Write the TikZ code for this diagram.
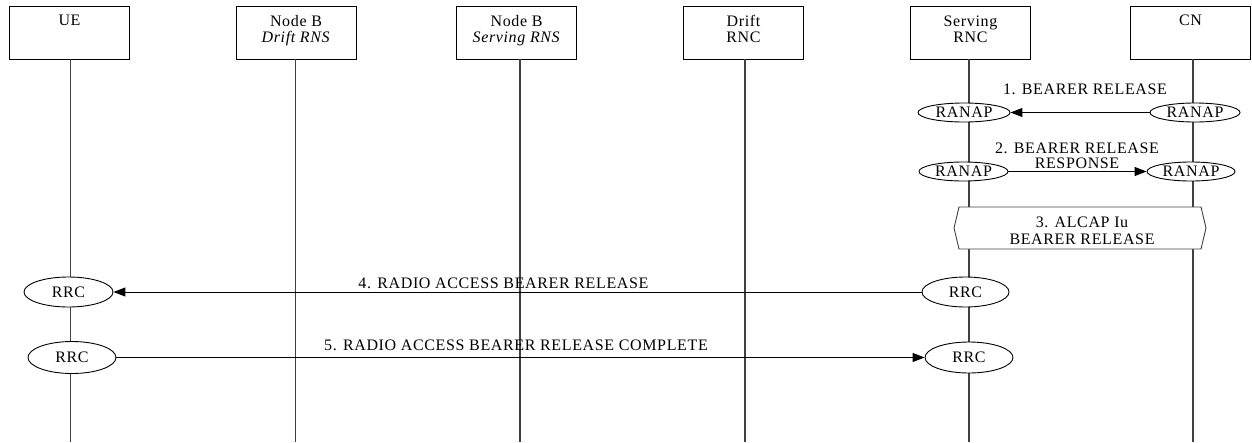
\documentclass[tikz,border=0pt]{standalone}
\usepackage{fontspec}
\setmainfont{Liberation Serif}[LetterSpace=4]
\usetikzlibrary{arrows.meta,shapes.geometric}
\begin{document}
\begin{tikzpicture}[x=1pt,y=-1pt,
  font=\fontsize{16}{16.5}\selectfont,
  entity/.style={draw=black, line width=1pt, minimum width=120pt, minimum height=53pt, inner sep=0pt},
  lbl/.style={inner sep=0pt, anchor=base, align=center},
  life/.style={draw=black!75, line width=1.2pt},
  proto/.style={draw=black, fill=white, ellipse, line width=0.9pt, inner sep=0pt, minimum width=90pt, minimum height=19pt},
  rrc/.style={proto, minimum width=88pt, minimum height=30pt},
  msg/.style={draw=black, line width=1pt, -{Triangle[length=12pt,width=9pt]}},
  hexa/.style={draw=black!75, fill=white, line width=0.9pt}
]
\useasboundingbox (0,0) rectangle (1252,442);
% entity boxes
\node[entity] (ue)  at (69.5,32.5)  {};
\node[entity] (nbd) at (296,32.5)   {};
\node[entity] (nbs) at (516.5,32.5) {};
\node[entity] (drnc) at (743.5,32.5) {};
\node[entity] (srnc) at (970.5,32.5) {};
\node[entity] (cn)  at (1190.5,32.5) {};
\node[lbl] (uet) at (69.5,25.5) {UE};
\node[lbl] (nbdt) at (296,42.5) {Node B\\\textit{Drift RNS}};
\node[lbl] (nbst) at (516.5,42.5) {Node B\\\textit{Serving RNS}};
\node[lbl] (drnct) at (743.5,42.5) {Drift\\RNC};
\node[lbl] (srnct) at (970.5,42.5) {Serving\\RNC};
\node[lbl] (cnt) at (1190.5,25.5) {CN};
% lifeline ends
\coordinate (ueA) at (70.5,59);   \coordinate (ueB) at (70.5,442);
\coordinate (nbdA) at (295.5,59); \coordinate (nbdB) at (295.5,442);
\coordinate (nbsA) at (520,59);   \coordinate (nbsB) at (520,442);
\coordinate (drncA) at (745,59);  \coordinate (drncB) at (745,442);
\coordinate (srncA) at (969,59);  \coordinate (srncB) at (969,442);
\coordinate (cnA) at (1193,59);   \coordinate (cnB) at (1193,442);
\draw[life] (ueA) -- (ueB);
\draw[life] (nbdA) -- (nbdB);
\draw[life] (nbsA) -- (nbsB);
\draw[life] (drncA) -- (drncB);
\draw[life] (srncA) -- (srncB);
\draw[life] (cnA) -- (cnB);
% 1
\node[proto, minimum width=92pt] (l1) at (964,112.5) {RANAP};
\node[proto] (r1) at (1195,112.5) {RANAP};
\draw[msg] (r1) -- (l1);
\node[lbl] (t1) at (1085,94) {1. BEARER RELEASE};
% 2
\node[proto, minimum width=89pt] (l2) at (963.5,171.5) {RANAP};
\node[proto, minimum width=88pt] (r2) at (1191,171.5) {RANAP};
\draw[msg] (l2) -- (r2);
\node[lbl, font=\fontsize{16}{15}\selectfont] (t2) at (1077,168) {2. BEARER RELEASE\\RESPONSE};
% 3
\draw[hexa] (954,228) -- (959,207) -- (1201,207) -- (1206,228) -- (1201,249) -- (959,249) -- cycle;
\node[lbl, font=\fontsize{16}{17}\selectfont] (t3) at (1082,244) {3. ALCAP Iu\\BEARER RELEASE};
% 4
\node[rrc, minimum width=89pt] (u4) at (68.5,292) {RRC};
\node[rrc, minimum width=87pt] (s4) at (965.5,292) {RRC};
\draw[msg] (s4) -- (u4);
\node[lbl] (t4) at (503.5,288) {4. RADIO ACCESS BEARER RELEASE};
% 5
\node[rrc, minimum height=32pt] (u5) at (72,357.5) {RRC};
\node[rrc, minimum height=31pt] (s5) at (969,357.5) {RRC};
\draw[msg] (u5) -- (s5);
\node[lbl] (t5) at (516,350) {5. RADIO ACCESS BEARER RELEASE COMPLETE};
\end{tikzpicture}
\end{document}
